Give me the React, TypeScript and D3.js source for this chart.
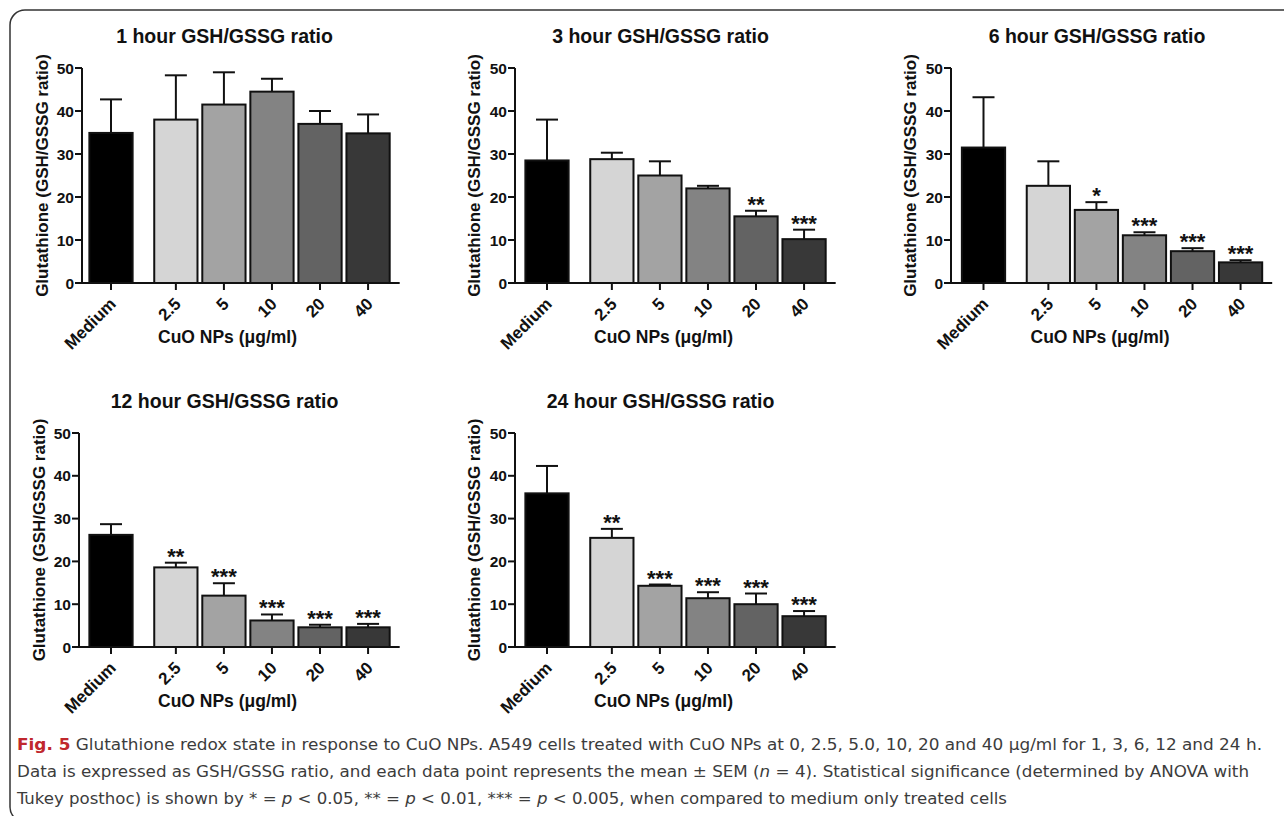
import React from "react";
import * as d3 from "d3";

// categories and axis ticks
const doses = ["Medium", "2.5", "5", "10", "20", "40"];
const yTicks = [0, 10, 20, 30, 40, 50];
const barFills = ["#000000", "#d5d5d5", "#a3a3a3", "#838383", "#636363", "#383838"];

const titles = [
  "1 hour GSH/GSSG ratio",
  "3 hour GSH/GSSG ratio",
  "6 hour GSH/GSSG ratio",
  "12 hour GSH/GSSG ratio",
  "24 hour GSH/GSSG ratio",
];

// mean and SEM
const mean1h = [34.9, 38.0, 41.5, 44.5, 37.0, 34.8];
const sem1h = [7.8, 10.3, 7.5, 3.0, 3.0, 4.4];
const sig1h = ["", "", "", "", "", ""];

const mean3h = [28.5, 28.8, 25.0, 22.0, 15.5, 10.2];
const sem3h = [9.5, 1.5, 3.3, 0.6, 1.3, 2.2];
const sig3h = ["", "", "", "", "**", "***"];

const mean6h = [31.5, 22.6, 17.0, 11.1, 7.4, 4.8];
const sem6h = [11.7, 5.7, 1.8, 0.7, 0.7, 0.5];
const sig6h = ["", "", "*", "***", "***", "***"];

const mean12h = [26.2, 18.6, 12.0, 6.2, 4.6, 4.6];
const sem12h = [2.5, 1.1, 2.9, 1.4, 0.6, 0.8];
const sig12h = ["", "**", "***", "***", "***", "***"];

const mean24h = [35.9, 25.5, 14.3, 11.4, 10.0, 7.2];
const sem24h = [6.4, 2.1, 0.3, 1.4, 2.5, 1.2];
const sig24h = ["", "**", "***", "***", "***", "***"];

const FONT = "'Liberation Sans', Arial, Helvetica, sans-serif";
const CAP_FONT = "'Liberation Sans Narrow', 'DejaVu Sans Condensed', 'Open Sans', sans-serif";

// slot of each category on the x axis (gap after Medium)
const slots = doses.map((d, i) => (i === 0 ? 0 : i + 0.35));
const STEP = 48.05;

function Panel({ title, mean, sem, sig, axisX, firstX, yTop, yBottom, labelX }) {
  const x = d3
    .scaleLinear()
    .domain([0, 5.35])
    .range([firstX, firstX + 5.35 * STEP]);
  const y = d3.scaleLinear().domain([0, 50]).range([yBottom, yTop]);
  const bw = STEP * 0.9;
  const axisEnd = x(5.35) + bw / 2 + 10;
  const mid = (x(0) + x(5.35)) / 2;

  return (
    <g fontFamily={FONT} fill="#111">
      <text x={mid - 15} y={yTop - 25} textAnchor="middle" fontSize={19.5} fontWeight="bold">
        {title}
      </text>
      <text
        transform={`translate(${labelX},${(yTop + yBottom) / 2}) rotate(-90)`}
        textAnchor="middle"
        dominantBaseline="central"
        fontSize={17}
        fontWeight="bold"
      >
        Glutathione (GSH/GSSG ratio)
      </text>

      {doses.map((d, i) => {
        const cx = x(slots[i]);
        const top = y(mean[i]);
        const et = y(mean[i] + sem[i]);
        return (
          <g key={d}>
            <line x1={cx} x2={cx} y1={top} y2={et} stroke="#111" strokeWidth={2} />
            <line x1={cx - 11} x2={cx + 11} y1={et} y2={et} stroke="#111" strokeWidth={2} />
            <rect
              x={cx - bw / 2}
              y={top}
              width={bw}
              height={yBottom - top}
              fill={barFills[i]}
              stroke="#111"
              strokeWidth={2}
            />
            {sig[i] && (
              <text x={cx} y={et + 1} textAnchor="middle" fontSize={22} fontWeight="bold">
                {sig[i]}
              </text>
            )}
            <line x1={cx} x2={cx} y1={yBottom} y2={yBottom + 7} stroke="#111" strokeWidth={2} />
            <text
              transform={`translate(${cx + 6},${yBottom + 22}) rotate(-45)`}
              textAnchor="end"
              fontSize={17}
              fontWeight="bold"
            >
              {d}
            </text>
          </g>
        );
      })}

      <line x1={axisX} x2={axisX} y1={yTop} y2={yBottom} stroke="#111" strokeWidth={2} />
      <line x1={axisX - 1} x2={axisEnd} y1={yBottom} y2={yBottom} stroke="#111" strokeWidth={2} />
      {yTicks.map((t) => (
        <g key={t}>
          <line x1={axisX - 7} x2={axisX} y1={y(t)} y2={y(t)} stroke="#111" strokeWidth={2} />
          <text
            x={axisX - 8}
            y={y(t)}
            textAnchor="end"
            dominantBaseline="central"
            fontSize={15.5}
            fontWeight="bold"
          >
            {t}
          </text>
        </g>
      ))}

      <text x={mid - 12} y={yBottom + 60} textAnchor="middle" fontSize={17.5} fontWeight="bold">
        CuO NPs (μg/ml)
      </text>
    </g>
  );
}

const panels = [
  { title: titles[0], mean: mean1h, sem: sem1h, sig: sig1h, axisX: 82, firstX: 111, yTop: 68, yBottom: 283, labelX: 42 },
  { title: titles[1], mean: mean3h, sem: sem3h, sig: sig3h, axisX: 515, firstX: 547, yTop: 68, yBottom: 283, labelX: 474 },
  { title: titles[2], mean: mean6h, sem: sem6h, sig: sig6h, axisX: 951, firstX: 983.5, yTop: 68, yBottom: 283, labelX: 910 },
  { title: titles[3], mean: mean12h, sem: sem12h, sig: sig12h, axisX: 79, firstX: 111, yTop: 433, yBottom: 647, labelX: 39 },
  { title: titles[4], mean: mean24h, sem: sem24h, sig: sig24h, axisX: 515, firstX: 547, yTop: 433, yBottom: 647, labelX: 474 },
];

export default function App() {
  return (
    <svg
      width={1284}
      height={816}
      style={{ position: "absolute", left: 0, top: 0, background: "#fff" }}
    >
      <rect x={10} y={10} width={1300} height={812} rx={15} fill="none" stroke="#333" strokeWidth={1.5} />
      {panels.map((p) => (
        <Panel key={p.title} {...p} />
      ))}
      <g fontFamily={CAP_FONT} fontSize={16.5} fill="#3c3c3c">
        <text x={17} y={750} textLength={1245} lengthAdjust="spacingAndGlyphs">
          <tspan fill="#c0272d" fontWeight="bold">Fig. 5</tspan> Glutathione redox state in response to CuO NPs. A549 cells
          treated with CuO NPs at 0, 2.5, 5.0, 10, 20 and 40 µg/ml for 1, 3, 6, 12 and 24 h.
        </text>
        <text x={17} y={777} textLength={1232} lengthAdjust="spacingAndGlyphs">
          Data is expressed as GSH/GSSG ratio, and each data point represents the mean ± SEM (<tspan fontStyle="italic">n</tspan> = 4).
          Statistical significance (determined by ANOVA with
        </text>
        <text x={17} y={804} textLength={990} lengthAdjust="spacingAndGlyphs">
          Tukey posthoc) is shown by * = <tspan fontStyle="italic">p</tspan> &lt; 0.05, ** = <tspan fontStyle="italic">p</tspan> &lt;
          0.01, *** = <tspan fontStyle="italic">p</tspan> &lt; 0.005, when compared to medium only treated cells
        </text>
      </g>
    </svg>
  );
}
